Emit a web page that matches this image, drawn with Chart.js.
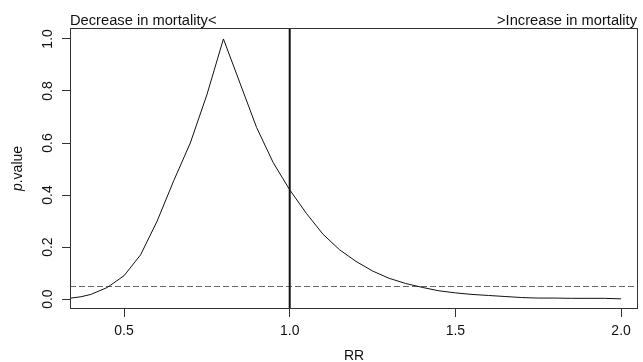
<!DOCTYPE html>
<html>
<head>
<meta charset="utf-8">
<script src="https://cdn.jsdelivr.net/npm/chart.js@4.4.1/dist/chart.umd.min.js"></script>
<style>
    html, body { margin: 0; padding: 0; background: #fff; }
    #wrap { width: 643px; height: 362px; }
</style>
</head>
<body>
<div id="wrap"><canvas id="pvalChart"></canvas></div>
<script>
// valeurs (RR -> p value)
const rrValues = [0.34, 0.37, 0.40, 0.45, 0.50, 0.55, 0.60, 0.65, 0.70, 0.75, 0.80,
    0.85, 0.90, 0.95, 1.00, 1.05, 1.10, 1.15, 1.20, 1.25, 1.30, 1.35, 1.40, 1.45,
    1.50, 1.55, 1.60, 1.65, 1.70, 1.75, 1.80, 1.85, 1.90, 1.95, 2.00];
const pValues = [0.004, 0.009, 0.018, 0.045, 0.09, 0.17, 0.30, 0.455, 0.60, 0.785, 1.0,
    0.83, 0.66, 0.525, 0.42, 0.33, 0.25, 0.19, 0.145, 0.108, 0.08, 0.06, 0.045, 0.032,
    0.024, 0.018, 0.014, 0.010, 0.006, 0.004, 0.004, 0.003, 0.003, 0.003, 0.001];
const xTicks = [0.5, 1.0, 1.5, 2.0];
const yTicks = [0, 0.2, 0.4, 0.6, 0.8, 1.0];
const refRR = 1.0;        // ligne verticale
const alphaLevel = 0.05;  // ligne pointillee
const leftNote = 'Decrease in mortality<';
const rightNote = '>Increase in mortality';
const xTitle = 'RR';

const fam = '"Liberation Sans", Arial, sans-serif';
const font14 = '14px ' + fam;
const ink = '#111';

// tout ce que chart.js ne fait pas tout seul (style R)
const extras = {
    id: 'extras',
    beforeDatasetsDraw(chart) {
        const { ctx, chartArea: a, scales: { x, y } } = chart;
        ctx.save();
        // ligne pointillee p = 0.05
        const yA = Math.round(y.getPixelForValue(alphaLevel)) + 0.5;
        ctx.strokeStyle = '#666';
        ctx.lineWidth = 1;
        ctx.setLineDash([6, 3]);
        ctx.beginPath();
        ctx.moveTo(a.left, yA);
        ctx.lineTo(a.right, yA);
        ctx.stroke();
        ctx.setLineDash([]);
        // ligne verticale RR = 1
        const xR = x.getPixelForValue(refRR);
        ctx.strokeStyle = ink;
        ctx.lineWidth = 2;
        ctx.beginPath();
        ctx.moveTo(xR, a.top);
        ctx.lineTo(xR, a.bottom);
        ctx.stroke();
        ctx.restore();
    },
    afterDraw(chart) {
        const { ctx, chartArea: a, scales: { y } } = chart;
        ctx.save();
        // le cadre
        ctx.strokeStyle = '#333';
        ctx.lineWidth = 1;
        ctx.strokeRect(a.left + 0.5, a.top + 0.5, a.width - 1, a.height - 1);

        ctx.font = font14;
        ctx.fillStyle = ink;
        // labels y tournes
        ctx.textAlign = 'center';
        ctx.textBaseline = 'middle';
        yTicks.forEach(v => {
            ctx.save();
            ctx.translate(48, y.getPixelForValue(v));
            ctx.rotate(-Math.PI / 2);
            ctx.fillText(v.toFixed(1), 0, 0);
            ctx.restore();
        });

        // titre y : p en italique
        ctx.save();
        ctx.translate(22, (a.top + a.bottom) / 2);
        ctx.rotate(-Math.PI / 2);
        ctx.textBaseline = 'alphabetic';
        ctx.textAlign = 'left';
        ctx.font = 'italic ' + font14;
        const wP = ctx.measureText('p').width;
        ctx.font = font14;
        const wRest = ctx.measureText('.value').width;
        const start = -(wP + wRest) / 2;
        ctx.font = 'italic ' + font14;
        ctx.fillText('p', start, 0);
        ctx.font = font14;
        ctx.fillText('.value', start + wP, 0);
        ctx.restore();

        // titre x
        ctx.textAlign = 'center';
        ctx.textBaseline = 'alphabetic';
        ctx.fillText(xTitle, (a.left + a.right) / 2, 360);

        // notes en haut
        ctx.font = '14.7px ' + fam;
        ctx.textAlign = 'left';
        ctx.fillText(leftNote, a.left, 25);
        ctx.textAlign = 'right';
        ctx.fillText(rightNote, 637, 25);
        ctx.restore();
    }
};

const ctxChart = document.getElementById('pvalChart').getContext('2d');
const pvalChart = new Chart(ctxChart, {
    type: 'line',
    data: {
        datasets: [{
            data: rrValues.map((r, i) => ({ x: r, y: pValues[i] })),
            borderColor: ink,
            borderWidth: 1,
            pointRadius: 0,
            tension: 0,
            fill: false
        }]
    },
    options: {
        responsive: true,
        maintainAspectRatio: false,
        animation: false,
        layout: { padding: { top: 28, right: 5, left: 0, bottom: 0 } },
        plugins: { legend: { display: false }, tooltip: { enabled: false } },
        scales: {
            x: {
                type: 'linear',
                min: 0.337,
                max: 2.051,
                afterBuildTicks: s => { s.ticks = xTicks.map(v => ({ value: v })); },
                afterFit: s => { s.height = 53; },
                grid: { drawOnChartArea: false, drawTicks: true, tickLength: 8, color: '#333' },
                border: { display: false },
                ticks: {
                    font: { family: fam, size: 14 },
                    color: ink,
                    padding: 6,
                    maxRotation: 0,
                    callback: v => v.toFixed(1)
                }
            },
            y: {
                min: -0.038,
                max: 1.042,
                afterBuildTicks: s => { s.ticks = yTicks.map(v => ({ value: v })); },
                afterFit: s => { s.width = 70; },
                grid: { drawOnChartArea: false, drawTicks: true, tickLength: 8, color: '#333' },
                border: { display: false },
                ticks: { display: false }
            }
        }
    },
    plugins: [extras]
});
</script>
</body>
</html>
